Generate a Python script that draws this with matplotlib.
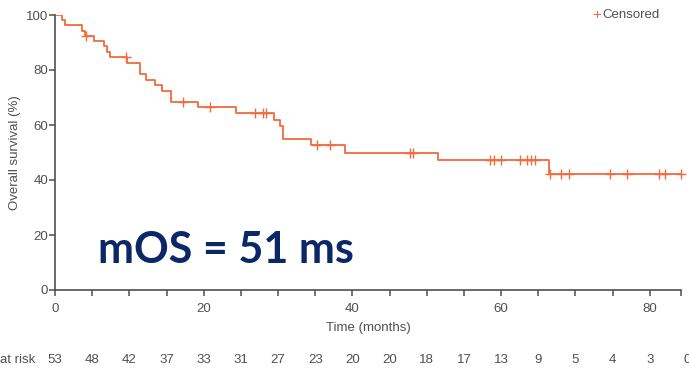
import matplotlib
matplotlib.use('Agg')
import matplotlib.pyplot as plt
import numpy as np

# Kaplan-Meier steps
event_times = [0, 1.0, 1.35, 3.6, 4.0, 5.2, 6.6, 7.0, 7.4, 9.7, 11.4, 12.3, 13.5, 14.4,
               15.6, 19.2, 24.4, 29.4, 30.2, 30.6, 34.5, 39.0, 51.5, 66.4]
survival = [100, 98.1, 96.2, 94.3, 92.4, 90.5, 88.6, 86.6, 84.7, 82.5, 78.5, 76.4, 74.5, 72.5,
            68.5, 66.4, 64.2, 61.8, 59.5, 55.0, 52.7, 49.8, 47.3, 42.2]
censor_times = [4.2, 9.6, 17.2, 20.9, 26.9, 28.0, 28.4, 35.2, 37.0, 47.7, 48.1,
                58.5, 59.1, 60.0, 62.6, 63.5, 64.0, 64.6,
                66.6, 68.0, 69.2, 74.6, 77.0, 81.2, 82.0, 84.2]
risk_times = list(range(0, 90, 5))
at_risk = [53, 48, 42, 37, 33, 31, 27, 23, 20, 20, 18, 17, 13, 9, 5, 4, 3, 0]

x_end = 84.2
orange = '#f26a3d'
gray = '#505050'
fs = 9.5

plt.rcParams['font.family'] = ['Liberation Sans', 'DejaVu Sans']

W, H = 689, 369
fig = plt.figure(figsize=(W / 100, H / 100), dpi=100, facecolor='white')
ax = fig.add_axes([55 / W, 1 - 290 / H, (681 - 55) / W, (290 - 15) / H])

# step curve extended to the last follow-up
xs = event_times + [x_end]
ys = survival + [survival[-1]]
ax.step(xs, ys, where='post', color=orange, lw=1.3)

# censor marks sit on the curve level at that time
def surv_at(t):
    idx = np.searchsorted(event_times, t, side='right') - 1
    return survival[idx]

ax.plot(censor_times, [surv_at(t) for t in censor_times], linestyle='none',
        marker='+', ms=6.5, mew=1.0, color=orange, clip_on=False)

ax.set_xlim(0, x_end)
ax.set_ylim(0, 100)
ax.spines['top'].set_visible(False)
ax.spines['right'].set_visible(False)
for s in ('left', 'bottom'):
    ax.spines[s].set_color(gray)
    ax.spines[s].set_linewidth(1.2)

xt = list(range(0, 85, 5)) + [x_end]
ax.set_xticks(xt)
ax.set_xticklabels([str(t) if t in (0, 20, 40, 60, 80) else '' for t in xt])
ax.set_yticks([0, 20, 40, 60, 80, 100])
ax.tick_params(direction='out', length=4, width=1.1, color=gray, labelcolor=gray,
               labelsize=fs)
ax.tick_params(axis='x', pad=5)
ax.tick_params(axis='y', pad=1)

fig.text(368 / W, 1 - 328 / H, 'Time (months)', ha='center', va='center',
         fontsize=fs, color=gray)
fig.text(15 / W, 1 - 153 / H, 'Overall survival (%)', ha='center', va='center',
         rotation=90, fontsize=fs, color=gray)

# number at risk row
for t, n in zip(risk_times, at_risk):
    ax.text(t, -25.5, str(n), ha='center', va='center', fontsize=fs, color=gray,
            clip_on=False)
fig.text(0, 1 - 360 / H, 'at risk', ha='left', va='center', fontsize=fs, color=gray)

# legend
fig.text(597 / W, 1 - 15 / H, '+', ha='center', va='center', fontsize=11, color=orange)
fig.text(602 / W, 1 - 15 / H, 'Censored', ha='left', va='center', fontsize=fs, color=gray)

# big annotation
ax.text(5.8, 9.8, 'mOS = 51 ms', ha='left', va='baseline', fontsize=31,
        fontweight='bold', family=['Lato', 'DejaVu Sans'], color='#0b2766')

fig.savefig('out.png', dpi=100, facecolor='white')
